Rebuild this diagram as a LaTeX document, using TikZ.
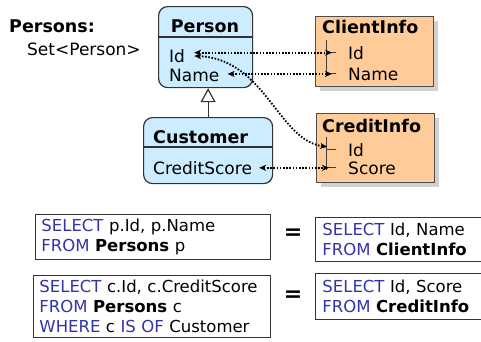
\documentclass[tikz,border=0pt]{standalone}
\usepackage{fontspec}
\setmainfont{DejaVu Sans}
\usetikzlibrary{positioning, arrows.meta}
\definecolor{entityblue}{RGB}{204, 236, 255}
\definecolor{tableorange}{RGB}{255, 204, 153}
\definecolor{keyblue}{RGB}{51, 51, 170}
\newcommand{\kw}[1]{\textcolor{keyblue}{#1}}

\begin{document}
\begin{tikzpicture}[x=1pt, y=-1pt,
    entity/.style={rectangle, draw=black!80, fill=entityblue, line width=1.2pt, rounded corners=9pt, anchor=north west},
    table/.style={rectangle, draw=black!70, fill=tableorange, line width=1.2pt, anchor=north west},
    shade/.style={fill=black!18},
    title/.style={font=\bfseries\fontsize{17.5}{18}\selectfont, inner sep=0pt, anchor=base west},
    field/.style={font=\fontsize{17}{18}\selectfont, inner sep=0pt, anchor=base west},
    link/.style={{Stealth[length=7pt, width=6pt, inset=2pt]}-{Stealth[length=7pt, width=6pt, inset=2pt]}, line width=1.8pt, dash pattern=on 1.6pt off 1.6pt},
    keyline/.style={line width=0.9pt, black!75},
    query/.style={rectangle, draw=black!80, line width=0.9pt, anchor=north west, align=left, inner xsep=6pt, font=\fontsize{16.5}{20}\selectfont},
    equals/.style={font=\bfseries\fontsize{22}{22}\selectfont}
]
    \useasboundingbox (0,0) rectangle (481,341);

    \node[title] (persons) at (9,32) {Persons:};
    \node[field] (settype) at (27,55) {Set<Person>};

    \node[entity, minimum width=94pt, minimum height=81pt] (person) at (158,6) {};
    \draw[line width=1.2pt, black!80] ([yshift=-31pt]person.north west) -- ([yshift=-31pt]person.north east);
    \node[title, anchor=base] (persontitle) at (205,32) {Person};
    \node[field] (pid) at (169,62) {Id};
    \node[field] (pname) at (169,81) {Name};

    \node[entity, minimum width=129pt, minimum height=66pt] (customer) at (143,117) {};
    \draw[line width=1.2pt, black!80] ([yshift=-30pt]customer.north west) -- ([yshift=-30pt]customer.north east);
    \node[title] (customertitle) at (153,143) {Customer};
    \node[field] (cscore) at (153,174) {CreditScore};

    \draw[line width=1.2pt, black!80, -{Triangle[open, length=14pt, width=15pt, fill=white]}] (customer.north) -- (customer.north |- person.south);

    \fill[shade] (320,21) rectangle (438,91);
    \node[table, minimum width=118pt, minimum height=70pt] (client) at (315,16) {};
    \node[title] (clienttitle) at (322,33) {ClientInfo};
    \node[field] (ciid) at (348,59) {Id};
    \node[field] (ciname) at (348,80) {Name};
    \draw[keyline] ([xshift=-22pt, yshift=12.5pt]ciid.west) -- ([xshift=-22pt, yshift=-2pt]ciname.west);
    \draw[keyline] ([xshift=-22pt]ciid.west) -- ([xshift=-12pt]ciid.west);
    \draw[keyline] ([xshift=-22pt]ciname.west) -- ([xshift=-12pt]ciname.west);

    \fill[shade] (321,118) rectangle (439,187);
    \node[table, minimum width=118pt, minimum height=69pt] (credit) at (316,113) {};
    \node[title] (credittitle) at (322,132) {CreditInfo};
    \node[field] (crid) at (348,156) {Id};
    \node[field] (crscore) at (348,174) {Score};
    \draw[keyline] ([xshift=-22pt, yshift=12.5pt]crid.west) -- ([xshift=-22pt, yshift=-2pt]crscore.west);
    \draw[keyline] ([xshift=-22pt]crid.west) -- ([xshift=-12pt]crid.west);
    \draw[keyline] ([xshift=-22pt]crscore.west) -- ([xshift=-12pt]crscore.west);

    \draw[link, shorten <=9pt, shorten >=16pt] (pid.east |- ciid.west) -- (ciid.west);
    \draw[link, shorten <=8pt, shorten >=16pt] (pname.east |- ciname.west) -- (ciname.west);
    \draw[link, shorten <=9pt, shorten >=21pt] (pid.east) .. controls +(80,3) and +(-70,-9.5) .. (crid.west);
    \draw[link, shorten <=7pt, shorten >=19pt] (cscore.east |- crscore.west) -- (crscore.west);

    \node[query, text width=223pt, minimum height=45pt] (q1) at (35,214) {\kw{SELECT} p.Id, p.Name\\\kw{FROM} \textbf{Persons} p};
    \node[query, text width=225pt, minimum height=62pt] (q2) at (33,275) {\kw{SELECT} c.Id, c.CreditScore\\\kw{FROM} \textbf{Persons} c\\\kw{WHERE} c \kw{IS OF} Customer};
    \node[query, inner xsep=7pt, text width=156pt, minimum height=44pt] (r1) at (315,217) {\kw{SELECT} Id, Name\\\kw{FROM} \textbf{ClientInfo}};
    \node[query, inner xsep=7pt, text width=156pt, minimum height=46pt] (r2) at (315,273) {\kw{SELECT} Id, Score\\\kw{FROM} \textbf{CreditInfo}};

    \node[equals] (eq1) at (293,234) {=};
    \node[equals] (eq2) at (293,296) {=};
\end{tikzpicture}
\end{document}
